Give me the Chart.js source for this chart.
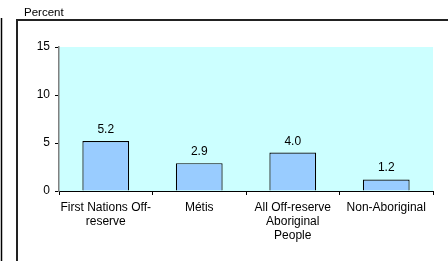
<!DOCTYPE html>
<html>
<head>
<meta charset="utf-8">
<script src="https://cdn.jsdelivr.net/npm/chart.js@4/dist/chart.umd.min.js"></script>
<style>
  html, body { margin: 0; padding: 0; background: #fff; }
  #wrap { width: 448px; height: 261px; position: relative; }
</style>
</head>
<body>
<div id="wrap"><canvas id="chart"></canvas></div>
<script>
const categories = [
  ['First Nations Off-', 'reserve'],
  ['Métis'],
  ['All Off-reserve', 'Aboriginal', 'People'],
  ['Non-Aboriginal'],
]
const percentValues = [5.2, 2.9, 4.0, 1.2]
const yTicks = [0, 5, 10, 15]
const axisTitle = 'Percent'

const FONT = '"Liberation Sans", Arial, sans-serif'

const framePlugin = {
  id: 'frame',
  beforeDraw(chart) {
    const ctx = chart.ctx
    const area = chart.chartArea
    ctx.save()
    ctx.fillStyle = '#fff'
    ctx.fillRect(0, 0, chart.width, chart.height)
    // outer box lines
    ctx.strokeStyle = '#000'
    ctx.lineWidth = 1.5
    ctx.beginPath()
    ctx.moveTo(1.5, 18)
    ctx.lineTo(1.5, chart.height)
    ctx.stroke()
    ctx.strokeStyle = '#222'
    ctx.lineWidth = 2
    ctx.beginPath()
    ctx.moveTo(17, chart.height)
    ctx.lineTo(17, 20)
    ctx.lineTo(chart.width, 20)
    ctx.stroke()
    // plot background
    ctx.fillStyle = '#CCFFFF'
    ctx.fillRect(area.left, area.top, area.right - area.left, area.bottom - area.top)
    // axis title
    ctx.fillStyle = '#000'
    ctx.font = '11.5px ' + FONT
    ctx.textAlign = 'left'
    ctx.textBaseline = 'alphabetic'
    ctx.fillText(axisTitle, 24, 16)
    ctx.restore()
  },
  afterDatasetsDraw(chart) {
    const ctx = chart.ctx
    const meta = chart.getDatasetMeta(0)
    ctx.save()
    ctx.fillStyle = '#000'
    ctx.font = '12px ' + FONT
    ctx.textAlign = 'center'
    ctx.textBaseline = 'alphabetic'
    meta.data.forEach((bar, i) => {
      ctx.fillText(percentValues[i].toFixed(1), bar.x, bar.y - 8)
    })
    ctx.restore()
  }
}

new Chart(document.getElementById('chart'), {
  type: 'bar',
  data: {
    labels: categories,
    datasets: [{
      data: percentValues,
      backgroundColor: '#99CCFF',
      borderColor: '#000',
      borderWidth: 1.2,
      barPercentage: 0.5,
      categoryPercentage: 1,
    }]
  },
  options: {
    responsive: true,
    maintainAspectRatio: false,
    animation: false,
    layout: { padding: { left: 29, top: 47, right: 15, bottom: 0 } },
    plugins: {
      legend: { display: false },
      tooltip: { enabled: false },
    },
    scales: {
      x: {
        afterFit(scale) { scale.height = 70 },
        border: { color: '#000', width: 1 },
        grid: {
          offset: true,
          drawOnChartArea: false,
          drawTicks: true,
          tickLength: 4,
          color: '#000',
        },
        ticks: {
          color: '#000',
          font: { family: FONT, size: 12 },
          padding: 5,
          maxRotation: 0,
          autoSkip: false,
        },
      },
      y: {
        min: 0,
        max: 15,
        afterFit(scale) { scale.width = 30 },
        afterBuildTicks(scale) { scale.ticks = yTicks.map(v => ({value: v})) },
        border: { color: '#808080', width: 1.5 },
        grid: {
          drawOnChartArea: false,
          drawTicks: true,
          tickLength: 4,
          color: '#000',
        },
        ticks: {
          color: '#000',
          font: { family: FONT, size: 12 },
          padding: 5,
        },
      },
    },
  },
  plugins: [framePlugin],
})
</script>
</body>
</html>
